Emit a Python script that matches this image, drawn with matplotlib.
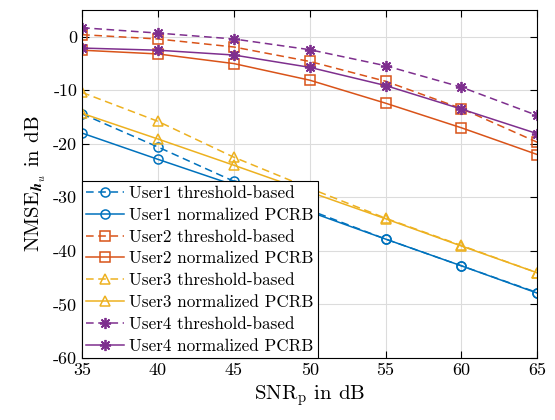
import matplotlib
matplotlib.use("Agg")
import matplotlib.pyplot as plt

snr = [35, 40, 45, 50, 55, 60, 65]
u1_thr = [-14.4, -20.6, -27.0, -32.4, -37.8, -42.8, -47.8]
u1_pcrb = [-18.0, -22.9, -27.7, -32.7, -37.8, -42.8, -47.9]
u2_thr = [0.4, -0.4, -1.9, -4.6, -8.3, -13.4, -19.7]
u2_pcrb = [-2.5, -3.2, -5.0, -8.1, -12.4, -17.0, -22.0]
u3_thr = [-10.4, -15.8, -22.5, -28.3, -33.9, -39.0, -44.1]
u3_pcrb = [-14.3, -19.1, -24.0, -29.0, -34.0, -39.1, -44.1]
u4_thr = [1.7, 0.7, -0.4, -2.4, -5.4, -9.4, -14.7]
u4_pcrb = [-2.1, -2.5, -3.4, -5.7, -9.1, -13.5, -18.1]

plt.rcParams['font.family'] = 'serif'
plt.rcParams['font.serif'] = ['cmr10']
plt.rcParams['mathtext.fontset'] = 'cm'
plt.rcParams['axes.unicode_minus'] = False
plt.rcParams['axes.formatter.use_mathtext'] = False

fig = plt.figure(figsize=(5.55, 4.2), dpi=100)
ax = fig.add_axes([0.148, 0.148, 0.82, 0.828])

c = ['#0072BD', '#D95319', '#EDB120', '#7E2F8E']
ast = (8, 2, 0)
series = [
    (u1_thr, c[0], '--', 'o', 'User1 threshold-based'),
    (u1_pcrb, c[0], '-', 'o', 'User1 normalized PCRB'),
    (u2_thr, c[1], '--', 's', 'User2 threshold-based'),
    (u2_pcrb, c[1], '-', 's', 'User2 normalized PCRB'),
    (u3_thr, c[2], '--', '^', 'User3 threshold-based'),
    (u3_pcrb, c[2], '-', '^', 'User3 normalized PCRB'),
    (u4_thr, c[3], '--', ast, 'User4 threshold-based'),
    (u4_pcrb, c[3], '-', ast, 'User4 normalized PCRB'),
]
for y, col, ls, m, lab in series:
    ms = 7.5 if m == '^' else (8 if m == ast else 6.5)
    kw = dict(dashes=(5, 3)) if ls == '--' else {}
    ax.plot(snr, y, color=col, ls=ls, marker=m, mfc='none', mec=col,
            mew=1.1 if m != ast else 1.3, ms=ms, lw=1.1, label=lab, **kw)

ax.set_xlim(35, 65)
ax.set_ylim(-60, 5)
ax.set_xticks(snr)
ax.set_yticks([0, -10, -20, -30, -40, -50, -60])
ax.grid(True, color='#dcdcdc', lw=0.8)
ax.tick_params(direction='in', top=True, right=True, labelsize=13, length=5)
for s in ax.spines.values():
    s.set_linewidth(0.8)
ax.set_xlabel(r'SNR$_\mathrm{p}$ in dB', fontsize=15)
ax.set_ylabel(r'NMSE$_{\mathbfit{h}_u}$ in dB', fontsize=15)

leg = ax.legend(loc='lower left', fontsize=12.3, frameon=True, fancybox=False,
                edgecolor='black', framealpha=1, borderaxespad=0,
                handlelength=2.2, handletextpad=0.3, labelspacing=0.38,
                borderpad=0.25)
leg.get_frame().set_linewidth(0.8)

fig.savefig('out.png', dpi=100)
